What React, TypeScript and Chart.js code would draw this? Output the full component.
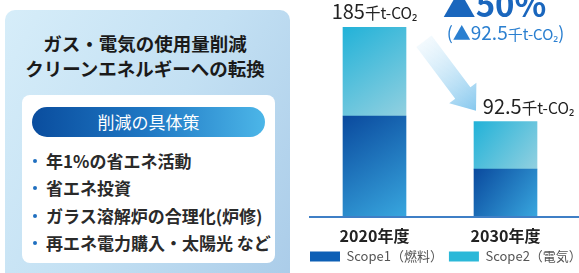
import React, { useEffect, useRef } from "react";
import { Chart, registerables } from "chart.js";

Chart.register(...registerables);

const categories = ["2020年度", "2030年度"];
const scope1 = [98, 46];
const scope2 = [87, 46.5];
const seriesNames = ["Scope1（燃料）", "Scope2（電気）"];
const unitText = "千t-CO";
const panelTitle = ["ガス・電気の使用量削減", "クリーンエネルギーへの転換"];
const pillText = "削減の具体策";
const measures = ["年1%の省エネ活動", "省エネ投資", "ガラス溶解炉の合理化(炉修)", "再エネ電力購入・太陽光 など"];

const FONT = "'Noto Sans CJK JP', 'Noto Sans', sans-serif";
const CANVAS_W = 330;
const VISIBLE_W = 289;

function barGradient(ctx: any, dsIndex: number) {
  const chart = ctx.chart;
  const xs = chart.scales?.x;
  const ys = chart.scales?.y;
  const solid = dsIndex === 0 ? "#0d5fb5" : "#2bb8d8";
  if (!xs || !ys || ctx.type !== "data" || !chart.chartArea) return solid;
  const i = ctx.dataIndex;
  const cx = xs.getPixelForValue(i);
  const half = 31.5;
  const lo = dsIndex === 0 ? 0 : scope1[i];
  const hi = dsIndex === 0 ? scope1[i] : scope1[i] + scope2[i];
  const yTop = ys.getPixelForValue(hi);
  const yBot = ys.getPixelForValue(lo);
  const g = chart.ctx.createLinearGradient(cx - half, yTop, cx + half, yBot);
  if (dsIndex === 0) {
    g.addColorStop(0, "#0a4a9e");
    g.addColorStop(1, "#38a6de");
  } else {
    g.addColorStop(0, "#22b2d8");
    g.addColorStop(1, "#92d0e0");
  }
  return g;
}

type Part = { t: string; size: number; weight?: string };

function drawParts(c: CanvasRenderingContext2D, parts: Part[], cx: number, baseline: number, color: string) {
  let total = 0;
  const widths = parts.map((p) => {
    c.font = `${p.weight || "normal"} ${p.size}px ${FONT}`;
    const w = c.measureText(p.t).width;
    total += w;
    return w;
  });
  let x = cx - total / 2;
  c.fillStyle = color;
  c.textBaseline = "alphabetic";
  c.textAlign = "left";
  parts.forEach((p, k) => {
    c.font = `${p.weight || "normal"} ${p.size}px ${FONT}`;
    c.fillText(p.t, x, baseline);
    x += widths[k];
  });
}

const fmt = (v: number) => (Math.round(v * 10) / 10).toString();

const annotPlugin = {
  id: "annot",
  beforeDatasetsDraw(chart: any) {
    const c: CanvasRenderingContext2D = chart.ctx;
    const b0 = chart.getDatasetMeta(1).data[0];
    const b1 = chart.getDatasetMeta(1).data[1];
    if (!b0 || !b1) return;
    const sx = b0.x + b0.width / 2 + 18;
    const sy = b0.y + 14;
    const tx = b1.x - b1.width / 2 + 2;
    const ty = b1.y - 11;
    const len = Math.hypot(tx - sx, ty - sy);
    const dx = (tx - sx) / len;
    const dy = (ty - sy) / len;
    const nx = -dy;
    const ny = dx;
    const headLen = 22;
    const hh = 17;
    const sh = 9.5;
    const bx = tx - dx * headLen;
    const by = ty - dy * headLen;
    const g = c.createLinearGradient(sx, sy, tx, ty);
    g.addColorStop(0, "rgba(230,244,252,0.5)");
    g.addColorStop(1, "#86c8ee");
    c.save();
    c.beginPath();
    c.moveTo(sx + nx * sh, sy + ny * sh);
    c.lineTo(bx + nx * sh, by + ny * sh);
    c.lineTo(bx + nx * hh, by + ny * hh);
    c.lineTo(tx, ty);
    c.lineTo(bx - nx * hh, by - ny * hh);
    c.lineTo(bx - nx * sh, by - ny * sh);
    c.lineTo(sx - nx * sh, sy - ny * sh);
    c.closePath();
    c.fillStyle = g;
    c.fill();
    c.restore();
  },
  afterDatasetsDraw(chart: any) {
    const c: CanvasRenderingContext2D = chart.ctx;
    const ys = chart.scales.y;
    const area = chart.chartArea;
    c.save();
    const y0 = ys.getPixelForValue(0);
    c.strokeStyle = "#3f7fc6";
    c.lineWidth = 2;
    c.beginPath();
    c.moveTo(area.left, y0 + 1);
    c.lineTo(VISIBLE_W, y0 + 1);
    c.stroke();

    const totals = categories.map((_, i) => scope1[i] + scope2[i]);
    const offsets = [0, 23];
    totals.forEach((t, i) => {
      const el = chart.getDatasetMeta(1).data[i];
      drawParts(
        c,
        [
          { t: fmt(t), size: 20 },
          { t: unitText, size: 15.5 },
          { t: "₂", size: 15 },
        ],
        el.x + offsets[i],
        el.y - 8,
        "#222222"
      );
    });

    const b1 = chart.getDatasetMeta(1).data[1];
    const diff = totals[0] - totals[1];
    const pct = Math.round((diff / totals[0]) * 100);
    drawParts(c, [{ t: `▲${pct}%`, size: 33, weight: "bold" }], b1.x - 11, 17, "#1a66bd");
    drawParts(
      c,
      [
        { t: "(▲", size: 18 },
        { t: fmt(diff), size: 19 },
        { t: unitText, size: 15 },
        { t: "₂", size: 14 },
        { t: ")", size: 18 },
      ],
      b1.x,
      40,
      "#2a7fd0"
    );
    c.restore();
  },
};

function BarChart() {
  const ref = useRef<HTMLCanvasElement | null>(null);
  useEffect(() => {
    if (!ref.current) return;
    Chart.defaults.font.family = FONT;
    const chart = new Chart(ref.current, {
      type: "bar",
      data: {
        labels: categories,
        datasets: [
          {
            label: seriesNames[0],
            data: scope1,
            backgroundColor: (ctx: any) => barGradient(ctx, 0),
            barThickness: 63,
          },
          {
            label: seriesNames[1],
            data: scope2,
            backgroundColor: (ctx: any) => barGradient(ctx, 1),
            barThickness: 63,
          },
        ],
      },
      options: {
        animation: false,
        responsive: false,
        maintainAspectRatio: false,
        layout: { padding: { left: 14, right: 0, top: 12, bottom: 0 } },
        scales: {
          x: {
            stacked: true,
            grid: { display: false, drawTicks: false },
            border: { display: false },
            ticks: {
              padding: 10,
              color: "#222222",
              font: { size: 16, weight: "bold", family: FONT },
            },
            afterFit: (s: any) => {
              s.height = 28;
            },
          },
          y: {
            stacked: true,
            min: 0,
            max: 200,
            grid: { display: false, drawTicks: false },
            border: { display: false },
            ticks: { display: false },
            afterFit: (s: any) => {
              s.width = 5;
            },
          },
          y2: {
            position: "right",
            display: true,
            min: 0,
            max: 200,
            grid: { display: false, drawTicks: false },
            border: { display: false },
            ticks: { display: false },
            afterFit: (s: any) => {
              s.width = CANVAS_W - 281;
            },
          },
        },
        plugins: {
          tooltip: { enabled: false },
          legend: {
            position: "bottom",
            align: "start",
            labels: {
              boxWidth: 30,
              boxHeight: 10,
              padding: 6,
              color: "#555555",
              font: { size: 13, family: FONT },
              generateLabels: () =>
                seriesNames.map((n, i) => ({
                  text: n,
                  fillStyle: i === 0 ? "#0d5fb5" : "#2bb8d8",
                  strokeStyle: "rgba(0,0,0,0)",
                  lineWidth: 0,
                  datasetIndex: i,
                  hidden: false,
                  fontColor: "#555555",
                })),
            },
          },
        },
      },
      plugins: [annotPlugin],
    } as any);
    return () => chart.destroy();
  }, []);
  return (
    <canvas
      ref={ref}
      width={CANVAS_W}
      height={273}
      style={{ position: "absolute", left: 290, top: 0, width: CANVAS_W, height: 273 }}
    />
  );
}

export default function App() {
  const rows = [161, 188, 216, 243];
  return (
    <div
      style={{
        position: "absolute",
        left: 0,
        top: 0,
        width: 579,
        height: 273,
        overflow: "hidden",
        background: "#ffffff",
        fontFamily: FONT,
      }}
    >
      <div
        style={{
          position: "absolute",
          left: 5,
          top: 10,
          width: 285,
          height: 290,
          borderRadius: 10,
          background: "linear-gradient(120deg, #d6edf9 0%, #c3e0f3 50%, #a9cbe8 100%)",
        }}
      />
      {panelTitle.map((t, i) => (
        <div
          key={t}
          style={{
            position: "absolute",
            left: 0,
            width: 290,
            top: 30.5 + i * 25,
            height: 25,
            lineHeight: "25px",
            textAlign: "center",
            fontSize: 18.5,
            fontWeight: "bold",
            color: "#1a1a1a",
            whiteSpace: "nowrap",
          }}
        >
          {t}
        </div>
      ))}
      <div
        style={{
          position: "absolute",
          left: 22,
          top: 95,
          width: 253,
          height: 168,
          borderRadius: 8,
          background: "#ffffff",
        }}
      />
      <div
        style={{
          position: "absolute",
          left: 32,
          top: 107,
          width: 233,
          height: 30,
          borderRadius: 15,
          background: "linear-gradient(90deg, #0a4d9e 0%, #1f78c4 50%, #4cb6e8 100%)",
          color: "#ffffff",
          fontSize: 17,
          lineHeight: "30px",
          textAlign: "center",
          whiteSpace: "nowrap",
        }}
      >
        {pillText}
      </div>
      {measures.map((m, i) => (
        <React.Fragment key={m}>
          <div
            style={{
              position: "absolute",
              left: 32.5,
              top: rows[i] - 2,
              width: 4,
              height: 4,
              borderRadius: 2,
              background: "#1f6fc0",
            }}
          />
          <div
            style={{
              position: "absolute",
              left: 46,
              top: rows[i] - 12,
              height: 24,
              lineHeight: "24px",
              fontSize: 17,
              fontWeight: "bold",
              color: "#2a2a2a",
              whiteSpace: "nowrap",
            }}
          >
            {m}
          </div>
        </React.Fragment>
      ))}
      <BarChart />
    </div>
  );
}
